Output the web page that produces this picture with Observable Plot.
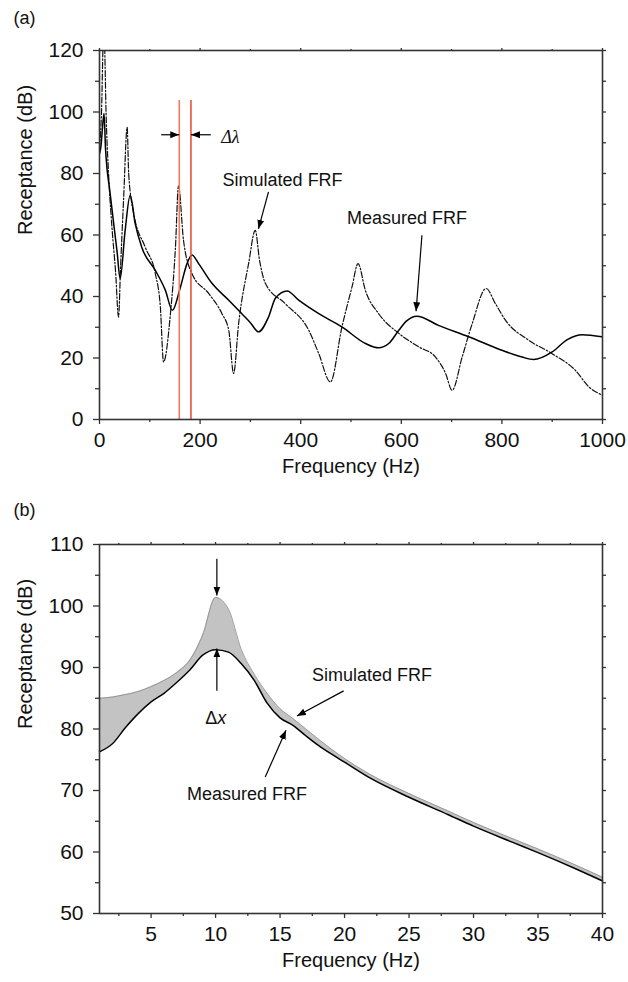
<!DOCTYPE html>
<html>
<head>
<meta charset="utf-8">
<script src="https://cdn.jsdelivr.net/npm/d3@7"></script>
<script src="https://cdn.jsdelivr.net/npm/@observablehq/plot@0.6"></script>
<style>
  html, body { margin: 0; padding: 0; background: #fff; }
  #chart { width: 628px; }
  #chart svg { display: block; }
</style>
</head>
<body>
<div id="chart"></div>
<script>
// ---------- Panel (a) data ----------
const measA_f = [0, 3, 6, 9, 12, 15, 20, 28, 35, 41, 51, 61, 71, 84, 111, 131, 145, 160, 174, 184, 197, 224, 257, 283, 300, 316, 336, 350, 373, 396, 436, 482, 529, 555, 575, 595, 610, 631, 674, 734, 800, 840, 863, 900, 930, 960, 1000];
const measA_r = [86.4, 89, 95, 99.5, 88, 81.5, 75, 64, 54.5, 45.8, 61.5, 72.9, 63.7, 56, 48.5, 42, 35.5, 42.5, 50.7, 53.5, 50.7, 44.2, 38.8, 34.4, 31.5, 28.5, 33.3, 39.5, 41.8, 38.8, 34.4, 30.1, 24.7, 23.3, 24.7, 29, 32, 33.6, 30.6, 26.9, 22.5, 20.3, 19.5, 22, 26, 27.6, 26.9];

const simA_f = [0, 4, 8, 10, 13, 18, 25, 32, 37.8, 42, 48, 55, 58, 68, 91, 111, 121, 127.3, 141, 151, 157, 167, 184, 217, 243.5, 257, 266.6, 276.6, 296.4, 309.7, 318, 330, 369, 416, 436, 459, 482, 502, 514, 528.5, 555, 595, 635, 668, 688, 701, 721, 741, 768.6, 787, 807, 853, 900, 946, 973, 1000];
const simA_r = [88, 100, 125, 122, 100, 80, 62, 48, 33.3, 50, 72, 95, 80, 67, 56, 47.4, 36.6, 18.7, 34.4, 56, 76, 58.3, 47.4, 41, 34.4, 29, 15, 31.2, 50.7, 61.5, 52, 44.2, 37.7, 29, 21.4, 12.2, 30.1, 43.1, 50.7, 42, 34.4, 28, 23.6, 20.3, 15, 9.5, 20.3, 31.2, 42.6, 37.7, 32.3, 25.8, 21.4, 16, 10.6, 7.9];

const redLinesA = [158.6, 181.8];
const redTopA = 103.7;
const xTicksA = [0, 200, 400, 600, 800, 1000];
const xMinorA = [100, 300, 500, 700, 900];
const yTicksA = [0, 20, 40, 60, 80, 100, 120];
const yMinorA = [10, 30, 50, 70, 90, 110];

// ---------- Panel (b) data ----------
const freqB = [1, 2, 3, 4, 5, 6, 7, 8, 9, 10, 11, 12, 13, 14, 15, 16, 17, 18, 19, 20, 22, 25, 28, 30, 33, 35, 38, 40];
const measB = [76.3, 77.6, 80.2, 82.5, 84.4, 85.8, 87.6, 89.6, 92.0, 92.9, 92.5, 90.6, 87.9, 84.2, 81.8, 80.6, 78.9, 77.3, 75.9, 74.6, 72.0, 68.9, 66.1, 64.2, 61.6, 59.9, 57.2, 55.3];
const simB  = [85.0, 85.2, 85.6, 86.1, 86.9, 87.9, 89.2, 91.2, 95.3, 101.4, 99.5, 92.9, 88.9, 85.8, 83.3, 81.7, 80.0, 78.3, 76.7, 75.2, 72.6, 69.5, 66.7, 64.8, 62.2, 60.5, 57.8, 55.9];
const xTicksB = [5, 10, 15, 20, 25, 30, 35, 40];
const xMinorB = [2.5, 7.5, 12.5, 17.5, 22.5, 27.5, 32.5, 37.5];
const yTicksB = [50, 60, 70, 80, 90, 100, 110];
const yMinorB = [55, 65, 75, 85, 95, 105];

// ---------- helpers ----------
const FONT = "Liberation Sans, Arial, Helvetica, sans-serif";
const AXIS = "#333";
const fmt = d3.format("d");

function filledArrow(color) {
  const m = d3.create("svg:marker")
    .attr("viewBox", "-9 -4 9 8")
    .attr("markerWidth", 9)
    .attr("markerHeight", 8)
    .attr("markerUnits", "userSpaceOnUse")
    .attr("orient", "auto")
    .attr("refX", 0)
    .attr("refY", 0)
    .attr("fill", color)
    .attr("stroke", "none");
  m.append("path").attr("d", "M-9,-3.5L0,0L-9,3.5Z");
  return m.node();
}

function axes(xT, xM, yT, yM) {
  return [
    Plot.axisX(xT, {anchor: "bottom", tickSize: 5, tickPadding: 8, tickFormat: fmt, label: null, stroke: AXIS, strokeWidth: 1.3, fill: "#111"}),
    Plot.axisX(xM, {anchor: "bottom", tickSize: 3, fill: "none", label: null, stroke: AXIS, strokeWidth: 1.3}),
    Plot.axisX(xT, {anchor: "top", tickSize: 3, fill: "none", label: null, stroke: AXIS, strokeWidth: 1.3}),
    Plot.axisX(xM, {anchor: "top", tickSize: 2, fill: "none", label: null, stroke: AXIS, strokeWidth: 1.3}),
    Plot.axisY(yT, {anchor: "left", tickSize: 6, tickPadding: 10, tickFormat: fmt, label: null, stroke: AXIS, strokeWidth: 1.3, fill: "#111"}),
    Plot.axisY(yM, {anchor: "left", tickSize: 4, fill: "none", label: null, stroke: AXIS, strokeWidth: 1.3}),
    Plot.axisY(yT, {anchor: "right", tickSize: 3, fill: "none", label: null, stroke: AXIS, strokeWidth: 1.3}),
    Plot.axisY(yM, {anchor: "right", tickSize: 3, fill: "none", label: null, stroke: AXIS, strokeWidth: 1.3}),
    Plot.frame({stroke: AXIS, strokeWidth: 1.6})
  ];
}

function axisTitles(panel, xTitle) {
  return [
    Plot.text([xTitle], {frameAnchor: "bottom", dy: 39, lineAnchor: "top", fontSize: 20, fill: "#111"}),
    Plot.text(["Receptance (dB)"], {frameAnchor: "left", dx: -74, rotate: -90, lineAnchor: "middle", fontSize: 20, fill: "#111"}),
    Plot.text([panel.label], {frameAnchor: "top-left", dx: -86, dy: panel.dy, lineAnchor: "top", textAnchor: "start", fontSize: 18, fill: "#111"})
  ];
}

const STYLE = {fontFamily: FONT, fontSize: "21px", background: "white", color: "#111", overflow: "visible"};

// ---------- Panel (a) ----------
const measA = measA_f.map((f, i) => ({f, r: measA_r[i]}));
const simA = simA_f.map((f, i) => ({f, r: simA_r[i]}));

const plotA = Plot.plot({
  width: 628,
  height: 490,
  marginTop: 50,
  marginBottom: 71,
  marginLeft: 99,
  marginRight: 26,
  style: STYLE,
  x: {domain: [0, 1000]},
  y: {domain: [0, 120]},
  color: {type: "ordinal", domain: [0, 1], range: ["#f27a5e", "#e8532f"]},
  marks: [
    Plot.line(simA, {x: "f", y: "r", stroke: "#111", strokeWidth: 1.2, strokeDasharray: "6,2,1.5,2", curve: "monotone-x", clip: true}),
    Plot.line(measA, {x: "f", y: "r", stroke: "#000", strokeWidth: 1.5, curve: "monotone-x", clip: true}),
    Plot.ruleX(redLinesA, {y1: 0, y2: redTopA, stroke: (d, i) => i, strokeWidth: 1.6}),
    Plot.link([{x1: 122.7, x2: 158.6, y: 92.6}], {x1: "x1", x2: "x2", y1: "y", y2: "y", stroke: "#000", strokeWidth: 1.2, markerEnd: filledArrow}),
    Plot.link([{x1: 221.3, x2: 181.8, y: 92.6}], {x1: "x1", x2: "x2", y1: "y", y2: "y", stroke: "#000", strokeWidth: 1.2, markerEnd: filledArrow}),
    Plot.text(["Δλ"], {x: 242, y: 91.8, textAnchor: "start", lineAnchor: "middle", fontFamily: "Liberation Serif, Times New Roman, serif", fontStyle: "italic", fontSize: 18, fill: "#111"}),
    Plot.text(["Simulated FRF"], {x: 244.7, y: 77.8, textAnchor: "start", lineAnchor: "middle", fontSize: 18, fill: "#111"}),
    Plot.link([{x1: 336, y1: 74, x2: 316, y2: 62}], {x1: "x1", y1: "y1", x2: "x2", y2: "y2", stroke: "#000", strokeWidth: 1.2, markerEnd: filledArrow}),
    Plot.text(["Measured FRF"], {x: 492, y: 65.3, textAnchor: "start", lineAnchor: "middle", fontSize: 18, fill: "#111"}),
    Plot.link([{x1: 641, y1: 59.9, x2: 629.4, y2: 35.2}], {x1: "x1", y1: "y1", x2: "x2", y2: "y2", stroke: "#000", strokeWidth: 1.2, markerEnd: filledArrow}),
    ...axes(xTicksA, xMinorA, yTicksA, yMinorA),
    ...axisTitles({label: "(a)", dy: -39}, "Frequency (Hz)")
  ]
});

// ---------- Panel (b) ----------
const dataB = freqB.map((f, i) => ({f, meas: measB[i], sim: simB[i]}));

const plotB = Plot.plot({
  width: 628,
  height: 492,
  marginTop: 54,
  marginBottom: 69,
  marginLeft: 99,
  marginRight: 26,
  style: STYLE,
  x: {domain: [1, 40]},
  y: {domain: [50, 110]},
  marks: [
    Plot.areaY(dataB, {x: "f", y1: "meas", y2: "sim", fill: "#c3c3c3", curve: "monotone-x"}),
    Plot.line(dataB, {x: "f", y: "sim", stroke: "#8a8a8a", strokeWidth: 0.8, curve: "monotone-x"}),
    Plot.line(dataB, {x: "f", y: "meas", stroke: "#000", strokeWidth: 1.5, curve: "monotone-x"}),
    Plot.link([{x: 10.1, y1: 107.7, y2: 101.7}], {x1: "x", x2: "x", y1: "y1", y2: "y2", stroke: "#000", strokeWidth: 1.2, markerEnd: filledArrow}),
    Plot.link([{x: 10.1, y1: 86.2, y2: 93.1}], {x1: "x", x2: "x", y1: "y1", y2: "y2", stroke: "#000", strokeWidth: 1.2, markerEnd: filledArrow}),
    Plot.text(["Δ"], {x: 10.13, y: 81.7, textAnchor: "end", lineAnchor: "middle", fontSize: 18, fill: "#111"}),
    Plot.text(["x"], {x: 10.13, y: 81.7, textAnchor: "start", lineAnchor: "middle", fontSize: 18, fontStyle: "italic", fill: "#111"}),
    Plot.text(["Simulated FRF"], {x: 17.48, y: 88.7, textAnchor: "start", lineAnchor: "middle", fontSize: 18, fill: "#111"}),
    Plot.link([{x1: 19.93, y1: 86.2, x2: 16.31, y2: 82.1}], {x1: "x1", y1: "y1", x2: "x2", y2: "y2", stroke: "#000", strokeWidth: 1.2, markerEnd: filledArrow}),
    Plot.text(["Measured FRF"], {x: 7.78, y: 69.4, textAnchor: "start", lineAnchor: "middle", fontSize: 18, fill: "#111"}),
    Plot.link([{x1: 13.85, y1: 72.2, x2: 15.46, y2: 79.8}], {x1: "x1", y1: "y1", x2: "x2", y2: "y2", stroke: "#000", strokeWidth: 1.2, markerEnd: filledArrow}),
    ...axes(xTicksB, xMinorB, yTicksB, yMinorB),
    ...axisTitles({label: "(b)", dy: -41}, "Frequency (Hz)")
  ]
});

document.getElementById("chart").append(plotA, plotB);
</script>
</body>
</html>
